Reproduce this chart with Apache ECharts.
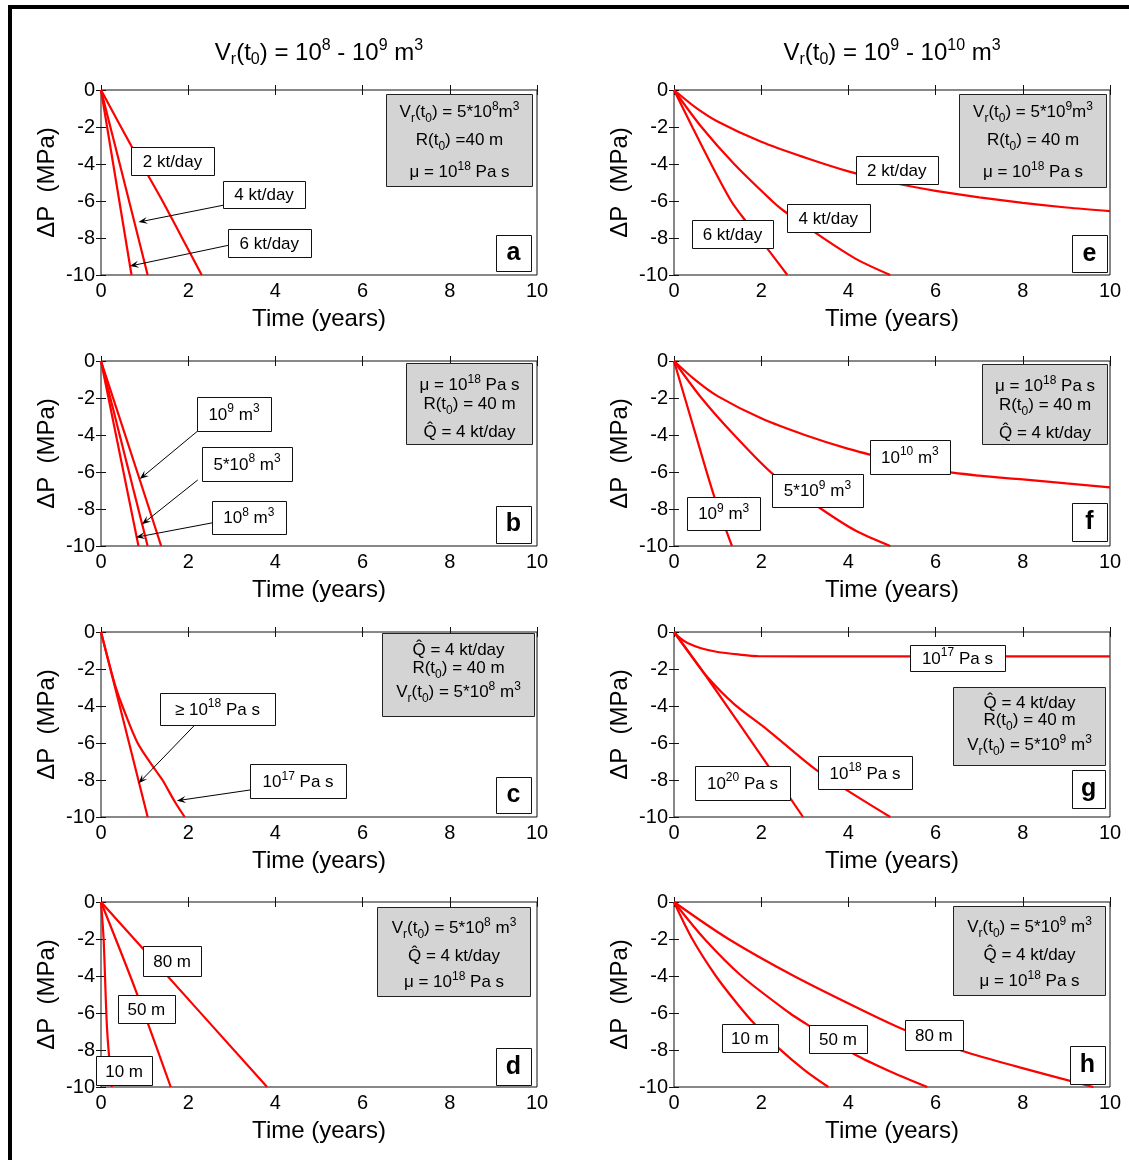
<!DOCTYPE html>
<html><head><meta charset="utf-8">
<script src="https://cdn.jsdelivr.net/npm/echarts@6/dist/echarts.min.js"></script>
<style>html,body{margin:0;padding:0;background:#fff}#c{width:1129px;height:1160px}</style>
</head><body><div id="c"></div>
<script>
// ---------------- DATA (t in years, dP in MPa) ----------------
const X_TICKS = [0, 2, 4, 6, 8, 10];
const Y_TICKS = [-10, -8, -6, -4, -2, 0];
// (a) injection rate, V = 5e8
const a_2kt = [[0,0],[0.69,-3],[1.41,-6],[1.86,-8],[2.31,-10]];
const a_4kt = [[0,0],[0.43,-4],[1.07,-10]];
const a_6kt = [[0,0],[0.70,-10]];
// (b) reservoir volume
const b_1e8 = [[0,0],[0.86,-10]];
const b_5e8 = [[0,0],[1.07,-10]];
const b_1e9 = [[0,0],[0.90,-6.5],[1.38,-10]];
// (c) viscosity
const c_ge18 = [[0,0],[0.43,-4],[1.07,-10]];
const c_17 = [[0,0],[0.22,-2],[0.34,-3],[0.49,-4],[0.84,-6],[1.26,-7.5],[1.41,-8],[1.70,-9.2],[1.92,-10]];
// (d) radius
const d_10m = [[0,0],[0.06,-2],[0.14,-6.9],[0.25,-10]];
const d_50m = [[0,0],[0.80,-4.8],[1.60,-10]];
const d_80m = [[0,0],[0.99,-2.6],[3.81,-10]];
// (e) injection rate, V = 5e9
const e_2kt = [[0,0],[0.5,-0.95],[1,-1.7],[2,-2.8],[3,-3.65],[4,-4.4],[5,-5.0],[6,-5.45],[7,-5.8],[8,-6.1],[9,-6.35],[10,-6.55]];
const e_4kt = [[0,0],[0.63,-2],[1.38,-4],[2.25,-6],[2.5,-6.5],[3.23,-7.7],[4.15,-9.1],[4.96,-10]];
const e_6kt = [[0,0],[0.42,-2],[0.85,-4],[1.31,-6],[1.65,-7.1],[2.15,-8.6],[2.60,-10]];
// (f) reservoir volume
const f_1e9 = [[0,0],[0.45,-3.6],[0.92,-7.3],[1.33,-10]];
const f_5e9 = [[0,0],[0.63,-2],[1.38,-4],[2.31,-6.2],[3.38,-8],[4.15,-9.15],[4.96,-10]];
const f_1e10 = [[0,0],[0.5,-1.05],[1,-1.9],[2,-3.1],[3,-4.0],[4,-4.75],[5,-5.35],[6,-5.9],[7,-6.2],[8,-6.4],[9,-6.62],[10,-6.83]];
// (g) viscosity
const g_17 = [[0,0],[0.15,-0.35],[0.31,-0.6],[0.62,-0.88],[1.0,-1.08],[1.5,-1.22],[1.92,-1.3],[4,-1.32],[10,-1.32]];
const g_18 = [[0,0],[0.4,-1.3],[0.77,-2.45],[1.38,-3.9],[2.15,-5.3],[3.23,-7.4],[4.0,-8.6],[4.96,-10]];
const g_20 = [[0,0],[0.77,-2.5],[2.15,-7.2],[2.96,-10]];
// (h) radius
const h_10m = [[0,0],[0.42,-2],[0.96,-4],[1.45,-5.5],[1.85,-6.6],[2.4,-7.9],[3.0,-9.1],[3.54,-10]];
const h_50m = [[0,0],[0.7,-2],[1.55,-4],[2.65,-6],[3.04,-6.6],[4.15,-8.24],[5.0,-9.2],[5.81,-10]];
const h_80m = [[0,0],[1.25,-2],[2.75,-4],[4.45,-6],[5.28,-6.9],[6.62,-8.05],[7.95,-8.95],[9.62,-10]];

// texts
const COL_TITLES = ['V_{r}(t_{0}) = 10^{8} - 10^{9} m^{3}', 'V_{r}(t_{0}) = 10^{9} - 10^{10} m^{3}'];
const X_NAME = 'Time (years)';
const Y_NAME = 'ΔP  (MPa)';
const INFO_A = ['V_{r}(t_{0}) = 5*10^{8}m^{3}', 'R(t_{0}) =40 m', 'μ = 10^{18} Pa s'];
const INFO_B = ['μ = 10^{18} Pa s', 'R(t_{0}) = 40 m', 'Q\u0302 = 4 kt/day'];
const INFO_C = ['Q\u0302 = 4 kt/day', 'R(t_{0}) = 40 m', 'V_{r}(t_{0}) = 5*10^{8} m^{3}'];
const INFO_D = ['V_{r}(t_{0}) = 5*10^{8} m^{3}', 'Q\u0302 = 4 kt/day', 'μ = 10^{18} Pa s'];
const INFO_E = ['V_{r}(t_{0}) = 5*10^{9}m^{3}', 'R(t_{0}) = 40 m', 'μ = 10^{18} Pa s'];
const INFO_F = ['μ = 10^{18} Pa s', 'R(t_{0}) = 40 m', 'Q\u0302 = 4 kt/day'];
const INFO_G = ['Q\u0302 = 4 kt/day', 'R(t_{0}) = 40 m', 'V_{r}(t_{0}) = 5*10^{9} m^{3}'];
const INFO_H = ['V_{r}(t_{0}) = 5*10^{9} m^{3}', 'Q\u0302 = 4 kt/day', 'μ = 10^{18} Pa s'];

// ---------------- LAYOUT / ANNOTATIONS ----------------
const FONT = '"Liberation Sans", Arial, Helvetica, sans-serif';
const PANEL_LEFT = [101,101,101,101,674,674,674,674];
const PANEL_TOP = [90,361,632,902,90,361,632,902];
const PW = 436, PH = 185;
const RED = '#ff0000';

// label: [text, x, y, w, h] (anchor in data coords, box size px)
const panels = [
  {letter:'a', curves:[a_2kt,a_4kt,a_6kt],
   labels:[['2 kt/day',1.64,-3.85,83,28],['4 kt/day',3.74,-5.66,82,27],['6 kt/day',3.86,-8.29,83,28]],
   arrows:[[2.80,-6.23,0.86,-7.14],[2.91,-8.40,0.66,-9.52]],
   info:{lines:INFO_A, x:8.21, y:-2.71, w:146, h:92, offs:[18,46,78]}, lp:[9.46,-8.83,35,36]},
  {letter:'b', curves:[b_1e8,b_5e8,b_1e9],
   labels:[['10^{9} m^{3}',3.05,-2.86,74,34],['5*10^{8} m^{3}',3.35,-5.57,90,34],['10^{8} m^{3}',3.39,-8.46,74,33]],
   arrows:[[2.22,-3.78,0.89,-6.38],[2.22,-6.43,0.94,-8.83],[2.57,-8.74,0.80,-9.53]],
   info:{lines:INFO_B, x:8.44, y:-2.30, w:126, h:81, offs:[22,41,69]}, lp:[9.46,-8.84,35,37]},
  {letter:'c', curves:[c_ge18,c_17],
   labels:[['≥ 10^{18} Pa s',2.67,-4.17,115,32],['10^{17} Pa s',4.52,-8.08,96,34]],
   arrows:[[2.15,-5.03,0.86,-8.18],[3.42,-8.54,1.74,-9.12]],
   info:{lines:INFO_C, x:8.19, y:-2.30, w:152, h:83, offs:[17,35,59]}, lp:[9.46,-8.80,35,36]},
  {letter:'d', curves:[d_10m,d_50m,d_80m],
   labels:[['80 m',1.63,-3.19,58,30],['50 m',1.04,-5.78,57,28],['10 m',0.53,-9.13,56,29]],
   arrows:[],
   info:{lines:INFO_D, x:8.08, y:-2.68, w:153, h:89, offs:[21,49,75]}, lp:[9.46,-8.90,35,37]},
  {letter:'e', curves:[e_2kt,e_4kt,e_6kt],
   labels:[['2 kt/day',5.11,-4.34,82,28],['4 kt/day',3.54,-6.94,83,28],['6 kt/day',1.34,-7.80,81,28]],
   arrows:[],
   info:{lines:INFO_E, x:8.22, y:-2.74, w:147, h:93, offs:[18,46,78]}, lp:[9.53,-8.86,35,37]},
  {letter:'f', curves:[f_1e9,f_5e9,f_1e10],
   labels:[['10^{10} m^{3}',5.41,-5.19,80,34],['5*10^{9} m^{3}',3.29,-7.00,91,33],['10^{9} m^{3}',1.14,-8.24,73,33]],
   arrows:[],
   info:{lines:INFO_F, x:8.50, y:-2.32, w:125, h:80, offs:[22,41,69]}, lp:[9.53,-8.70,35,38]},
  {letter:'g', curves:[g_17,g_18,g_20],
   labels:[['10^{17} Pa s',6.50,-1.41,95,26],['10^{18} Pa s',4.38,-7.62,94,33],['10^{20} Pa s',1.57,-8.16,95,34]],
   arrows:[],
   info:{lines:INFO_G, x:8.14, y:-5.08, w:152, h:78, offs:[16,33,58]}, lp:[9.51,-8.50,33,38]},
  {letter:'h', curves:[h_10m,h_50m,h_80m],
   labels:[['10 m',1.74,-7.35,56,28],['50 m',3.76,-7.40,58,28],['80 m',5.96,-7.20,58,30]],
   arrows:[],
   info:{lines:INFO_H, x:8.14, y:-2.62, w:152, h:89, offs:[21,49,75]}, lp:[9.48,-8.81,35,38]}
];

// ---------------- CHART ----------------
const chart = echarts.init(document.getElementById('c'), null, {renderer:'canvas'});
const grids = [], xAxes = [], yAxes = [], series = [];
const tickStyle = {inside:true, length:5, lineStyle:{color:'#111', width:1}};
const labStyle = {fontSize:20, color:'#000', fontFamily:FONT};
const nameStyle = {fontSize:24, color:'#000', fontFamily:FONT};
panels.forEach((p, i) => {
  grids.push({left:PANEL_LEFT[i], top:PANEL_TOP[i], width:PW, height:PH, show:true,
              borderColor:'#111', borderWidth:1, backgroundColor:'#fff'});
  const xb = {type:'value', gridIndex:i, min:X_TICKS[0], max:X_TICKS[X_TICKS.length-1],
              interval:X_TICKS[1]-X_TICKS[0], splitLine:{show:false}, axisLine:{show:false}, axisTick:tickStyle};
  const yb = {type:'value', gridIndex:i, min:Y_TICKS[0], max:Y_TICKS[Y_TICKS.length-1],
              interval:Y_TICKS[1]-Y_TICKS[0], splitLine:{show:false}, axisLine:{show:false}, axisTick:tickStyle};
  xAxes.push(Object.assign({}, xb, {position:'bottom', name:X_NAME, nameLocation:'middle', nameGap:32,
              nameTextStyle:nameStyle, axisLabel:Object.assign({margin:6}, labStyle)}));
  xAxes.push(Object.assign({}, xb, {position:'top', axisLabel:{show:false}}));
  yAxes.push(Object.assign({}, yb, {position:'left', name:Y_NAME, nameLocation:'middle', nameGap:42,
              nameTextStyle:nameStyle, axisLabel:Object.assign({margin:6}, labStyle)}));
  yAxes.push(Object.assign({}, yb, {position:'right', axisLabel:{show:false}}));
  p.curves.forEach(c => series.push({type:'line', xAxisIndex:2*i, yAxisIndex:2*i, data:c,
      showSymbol:false, symbol:'none', clip:true, z:2, silent:true,
      smooth:0.3,
      lineStyle:{color:RED, width:2.2}, itemStyle:{color:RED}}));
});
chart.setOption({animation:false, backgroundColor:'#fff', grid:grids, xAxis:xAxes, yAxis:yAxes, series:series});

// ---------------- ANNOTATIONS ----------------
function toRich(s){
  let out = '', buf = '';
  const flush = () => { if (buf) { out += '{n|' + buf + '}'; buf = ''; } };
  for (let k = 0; k < s.length; k++) {
    const ch = s[k];
    if ((ch === '_' || ch === '^') && s[k+1] === '{') {
      const end = s.indexOf('}', k+2);
      flush();
      out += '{' + (ch === '_' ? 'sb' : 'sp') + '|' + s.slice(k+2, end) + '}';
      k = end;
    } else buf += ch;
  }
  flush();
  return out;
}
function richStyles(base, small, shift){
  return {
    n:{fontSize:base, fontFamily:FONT, fill:'#000', lineHeight:base+2},
    sb:{fontSize:small, fontFamily:FONT, fill:'#000', lineHeight:small, padding:[shift*2,0,0,0]},
    sp:{fontSize:small, fontFamily:FONT, fill:'#000', lineHeight:small, padding:[0,0,shift*2,0]}
  };
}
const R17 = richStyles(17, 12, 6);
const R24 = richStyles(24, 16, 7);
function txt(s, x, y, rich, z){
  return {type:'text', x:x, y:y, z:z||102, silent:true,
          style:{text:toRich(s), rich:rich, align:'center', verticalAlign:'middle', fill:'#000', fontFamily:FONT, fontSize:17}};
}
function px(i, x, y){ return chart.convertToPixel({xAxisIndex:2*i, yAxisIndex:2*i}, [x, y]); }

const G = [];
// column titles
[0, 4].forEach((gi, k) => {
  G.push(txt(COL_TITLES[k], PANEL_LEFT[gi] + PW/2, PANEL_TOP[gi] - 37, R24));
});
panels.forEach((p, i) => {
  // arrows
  p.arrows.forEach(a => {
    const s = px(i, a[0], a[1]), t = px(i, a[2], a[3]);
    const dx = t[0]-s[0], dy = t[1]-s[1], L = Math.hypot(dx, dy);
    const ux = dx/L, uy = dy/L, nx = -uy, ny = ux, hl = 9, hw = 3.5;
    G.push({type:'line', z:99, silent:true, shape:{x1:s[0], y1:s[1], x2:t[0]-ux*hl*0.6, y2:t[1]-uy*hl*0.6},
            style:{stroke:'#000', lineWidth:1}});
    G.push({type:'polygon', z:99, silent:true, shape:{points:[
      [t[0], t[1]],
      [t[0]-ux*hl+nx*hw, t[1]-uy*hl+ny*hw],
      [t[0]-ux*hl*0.6, t[1]-uy*hl*0.6],
      [t[0]-ux*hl-nx*hw, t[1]-uy*hl-ny*hw]]}, style:{fill:'#000'}});
  });
  // white labels
  p.labels.forEach(l => {
    const c = px(i, l[1], l[2]);
    G.push({type:'rect', z:100, silent:true, shape:{x:Math.round(c[0]-l[3]/2)+0.5, y:Math.round(c[1]-l[4]/2)+0.5, width:l[3], height:l[4]},
            style:{fill:'#fff', stroke:'#111', lineWidth:1}});
    G.push(txt(l[0], c[0], c[1]+1, R17));
  });
  // gray info box
  const inf = p.info, ci = px(i, inf.x, inf.y);
  const bx = Math.round(ci[0]-inf.w/2)+0.5, by = Math.round(ci[1]-inf.h/2)+0.5;
  G.push({type:'rect', z:100, silent:true, shape:{x:bx, y:by, width:inf.w, height:inf.h},
          style:{fill:'#d4d4d4', stroke:'#222', lineWidth:1}});
  inf.lines.forEach((ln, k) => G.push(txt(ln, bx + inf.w/2, by + inf.offs[k], R17)));
  // panel letter
  const lc = px(i, p.lp[0], p.lp[1]);
  G.push({type:'rect', z:100, silent:true, shape:{x:Math.round(lc[0]-p.lp[2]/2)+0.5, y:Math.round(lc[1]-p.lp[3]/2)+0.5, width:p.lp[2], height:p.lp[3]},
          style:{fill:'#fff', stroke:'#111', lineWidth:1}});
  G.push({type:'text', x:lc[0], y:lc[1], z:102, silent:true,
          style:{text:p.letter, align:'center', verticalAlign:'middle', fill:'#000', fontFamily:FONT, fontSize:25, fontWeight:'bold'}});
});
// outer figure border
G.push({type:'rect', z:200, silent:true, shape:{x:10, y:7, width:1130, height:1160}, style:{fill:'none', stroke:'#000', lineWidth:4}});
chart.setOption({graphic:{elements:G}});
</script>
</body></html>
